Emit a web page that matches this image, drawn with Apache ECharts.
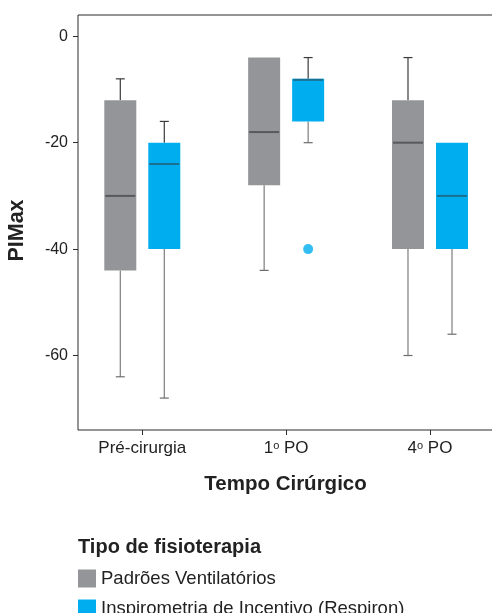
<!DOCTYPE html>
<html>
<head>
<meta charset="utf-8">
<script src="https://cdn.jsdelivr.net/npm/echarts@6/dist/echarts.min.js"></script>
<style>html,body{margin:0;padding:0;background:#fff;}#c{width:492px;height:613px;}</style>
</head>
<body>
<div id="c"></div>
<script>
// categories (x positions 0,1,2)
const categories = ['Pré-cirurgia', '1º PO', '4º PO'];
const yTicks = [0, -20, -40, -60];
const seriesNames = ['Padrões Ventilatórios', 'Inspirometria de Incentivo (Respiron)'];
// [category index, min, Q1, median, Q3, max]
const padroes = [
  [0, -64, -44, -30, -12, -8],
  [1, -44, -28, -18, -4, -4],
  [2, -60, -40, -20, -12, -4]
];
const respiron = [
  [0, -68, -40, -24, -20, -16],
  [1, -20, -16, -8, -8, -4],
  [2, -56, -40, -30, -20, -20]
];
const respironOutliers = [[1, -40]];

const FONT = 'Liberation Sans';
const colors = ['#939598', '#00aeef'];
const medianColors = ['#58595b', '#1b6f90'];
const shifts = [-22, 22];

function renderBox(params, api) {
  const si = params.seriesIndex;
  const cat = api.value(0);
  const lo = api.coord([cat, api.value(1)]);
  const q1 = api.coord([cat, api.value(2)]);
  const med = api.coord([cat, api.value(3)]);
  const q3 = api.coord([cat, api.value(4)]);
  const hi = api.coord([cat, api.value(5)]);
  const cx = lo[0] + shifts[si];
  const bw = 32, cap = 9;
  const children = [];
  if (Math.abs(q3[1] - hi[1]) > 0.5) {
    children.push({type: 'line', shape: {x1: cx, y1: q3[1], x2: cx, y2: hi[1]}, style: {stroke: '#3a3a3a', lineWidth: 1.2}});
    children.push({type: 'line', shape: {x1: cx - cap / 2, y1: hi[1], x2: cx + cap / 2, y2: hi[1]}, style: {stroke: '#3a3a3a', lineWidth: 1.2}});
  }
  if (Math.abs(q1[1] - lo[1]) > 0.5) {
    children.push({type: 'line', shape: {x1: cx, y1: q1[1], x2: cx, y2: lo[1]}, style: {stroke: '#7d7d7d', lineWidth: 1.2}});
    children.push({type: 'line', shape: {x1: cx - cap / 2, y1: lo[1], x2: cx + cap / 2, y2: lo[1]}, style: {stroke: '#6d6d6d', lineWidth: 1.2}});
  }
  children.push({type: 'rect', shape: {x: cx - bw / 2, y: q3[1], width: bw, height: q1[1] - q3[1]}, style: {fill: colors[si]}});
  const my = med[1] + (Math.abs(med[1] - q3[1]) < 1 ? 1 : 0);
  children.push({type: 'line', shape: {x1: cx - bw / 2 + 1, y1: my, x2: cx + bw / 2 - 1, y2: my}, style: {stroke: medianColors[si], lineWidth: 2}});
  return {type: 'group', children};
}

const chart = echarts.init(document.getElementById('c'), null, {renderer: 'canvas'});
chart.setOption({
  animation: false,
  textStyle: {fontFamily: FONT},
  title: {
    text: 'Tipo de fisioterapia', left: 78, top: 537, padding: 0,
    textStyle: {fontFamily: FONT, fontSize: 20, fontWeight: 'bold', color: '#222'}
  },
  legend: {
    data: seriesNames, orient: 'vertical', left: 78, top: 569, height: 80, padding: 0,
    itemWidth: 18, itemHeight: 18, itemGap: 11, icon: 'rect',
    textStyle: {fontFamily: FONT, fontSize: 18.5, color: '#222'}
  },
  grid: {left: 78, top: 15, right: -1, bottom: 183, show: true, borderColor: '#2b2b2b', borderWidth: 1, backgroundColor: 'transparent', containLabel: false, outerBoundsMode: 'none'},
  xAxis: {
    type: 'value', min: -0.447, max: 2.438,
    name: 'Tempo Cirúrgico', nameLocation: 'middle', nameGap: 44,
    nameTextStyle: {fontFamily: FONT, fontSize: 20.5, fontWeight: 'bold', color: '#222'},
    axisLine: {show: false, onZero: false},
    splitLine: {show: false},
    axisTick: {show: true, customValues: [0, 1, 2], length: 5, lineStyle: {color: '#2b2b2b'}},
    axisLabel: {
      customValues: [0, 1, 2], margin: 10, color: '#222', fontSize: 17,
      formatter: v => {
        const t = categories[Math.round(v)] || '';
        return t.split('º').map(p => '{n|' + p + '}').join('{s|o}');
      },
      rich: {n: {fontSize: 17, fontFamily: FONT, color: '#222'}, s: {fontSize: 11, fontFamily: FONT, color: '#222', verticalAlign: 'top'}}
    }
  },
  yAxis: {
    type: 'value', min: -74, max: 4,
    name: 'PIMax', nameLocation: 'middle', nameGap: 50,
    nameTextStyle: {fontFamily: FONT, fontSize: 21.5, fontWeight: 'bold', color: '#222', padding: [0, 16, 0, 0]},
    axisLine: {show: false, onZero: false},
    splitLine: {show: false},
    axisTick: {show: true, customValues: yTicks, length: 5, lineStyle: {color: '#2b2b2b'}},
    axisLabel: {customValues: yTicks, margin: 10, color: '#222', fontSize: 16}
  },
  series: [
    {name: seriesNames[0], type: 'custom', renderItem: renderBox, data: padroes, itemStyle: {color: colors[0]}, encode: {x: 0, y: [1, 2, 3, 4, 5]}, z: 2},
    {name: seriesNames[1], type: 'custom', renderItem: renderBox, data: respiron, itemStyle: {color: colors[1]}, encode: {x: 0, y: [1, 2, 3, 4, 5]}, z: 2},
    {name: 'outlier', type: 'scatter', data: respironOutliers, symbolSize: 10, symbolOffset: [22, 0], itemStyle: {color: colors[1]}, z: 3}
  ]
});
</script>
</body>
</html>
